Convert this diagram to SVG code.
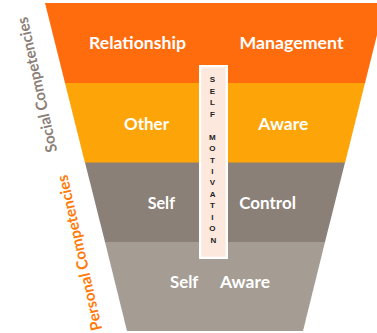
<svg xmlns="http://www.w3.org/2000/svg" width="377" height="333" viewBox="0 0 377 333">
  <style>
    .lbl { font-family: Lato, "Open Sans", "Liberation Sans", sans-serif; font-weight: bold; font-size: 17px; fill: #ffffff; text-anchor: middle; }
    .side { font-family: Lato, "Open Sans", "Liberation Sans", sans-serif; font-weight: bold; font-size: 15.5px; text-anchor: middle; dominant-baseline: central; }
    .ltr { font-family: "Liberation Sans", Arial, sans-serif; font-weight: bold; font-size: 8px; fill: #222222; text-anchor: middle; }
  </style>
  <rect width="377" height="333" fill="#ffffff"/>

  <!-- funnel layers, top to bottom -->
  <g id="relationship-management">
    <polygon points="45,3 385,3 365,83 65,83" fill="#FF6C0E"/>
    <text class="lbl" x="137.5" y="49" textLength="97" lengthAdjust="spacingAndGlyphs">Relationship</text>
    <text class="lbl" x="291.5" y="49" textLength="104" lengthAdjust="spacingAndGlyphs">Management</text>
  </g>
  <g id="other-aware">
    <polygon points="65,83 365,83 345,163 85,163" fill="#FDA508"/>
    <text class="lbl" x="146.5" y="130" textLength="45" lengthAdjust="spacingAndGlyphs">Other</text>
    <text class="lbl" x="283.3" y="130" textLength="50" lengthAdjust="spacingAndGlyphs">Aware</text>
  </g>
  <g id="self-control">
    <polygon points="85,162.5 345,162.5 325,242 105,242" fill="#8B8077"/>
    <text class="lbl" x="161.3" y="209" textLength="27.3" lengthAdjust="spacingAndGlyphs">Self</text>
    <text class="lbl" x="267.6" y="209" textLength="56.7" lengthAdjust="spacingAndGlyphs">Control</text>
  </g>
  <g id="self-aware">
    <polygon points="105,242 325,242 303,331 127,331" fill="#A59C93"/>
    <text class="lbl" x="184.2" y="288" textLength="28.3" lengthAdjust="spacingAndGlyphs">Self</text>
    <text class="lbl" x="245" y="288" textLength="50" lengthAdjust="spacingAndGlyphs">Aware</text>
  </g>

  <!-- vertical self-motivation bar -->
  <g id="self-motivation">
    <rect x="199" y="65" width="29" height="194" fill="#ffffff"/>
    <rect x="201.3" y="67.3" width="24.4" height="189.4" fill="#FCE8DC"/>
    <text class="ltr">
      <tspan x="213.5" y="82.3">S</tspan>
      <tspan x="213.5" y="93.8">E</tspan>
      <tspan x="213.5" y="105.2">L</tspan>
      <tspan x="213.5" y="116.7">F</tspan>
      <tspan x="213.5" y="139.6">M</tspan>
      <tspan x="213.5" y="151.1">O</tspan>
      <tspan x="213.5" y="162.5">T</tspan>
      <tspan x="213.5" y="174.0">I</tspan>
      <tspan x="213.5" y="185.4">V</tspan>
      <tspan x="213.5" y="196.9">A</tspan>
      <tspan x="213.5" y="208.4">T</tspan>
      <tspan x="213.5" y="219.8">I</tspan>
      <tspan x="213.5" y="231.3">O</tspan>
      <tspan x="213.5" y="242.7">N</tspan>
    </text>
  </g>

  <!-- side captions -->
  <g id="social-competencies">
    <text class="side" fill="#8B8077" transform="translate(36.5,85) rotate(-102.5)" textLength="138" lengthAdjust="spacingAndGlyphs">Social Competencies</text>
  </g>
  <g id="personal-competencies">
    <text class="side" fill="#FF7A0A" transform="translate(79,253) rotate(-102.7)" textLength="159" lengthAdjust="spacingAndGlyphs">Personal Competencies</text>
  </g>
</svg>
